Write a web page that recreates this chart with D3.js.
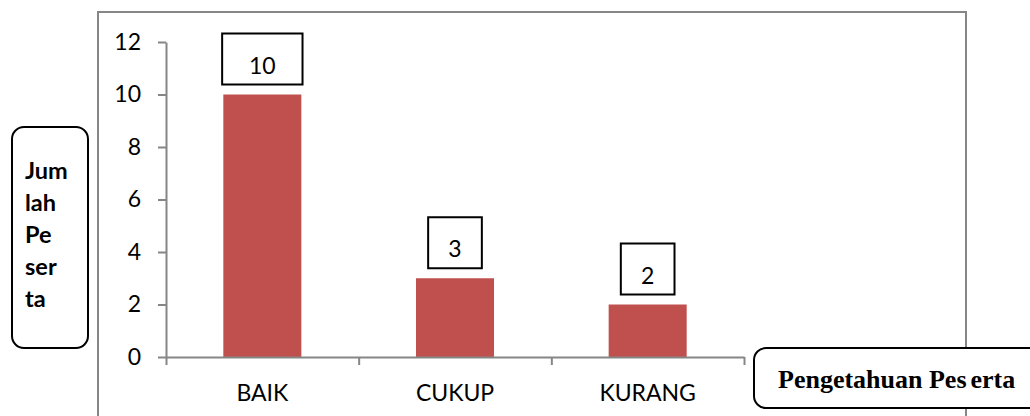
<!DOCTYPE html>
<html lang="en">
<head>
	<title>Pengetahuan Peserta</title>
	<script src="https://d3js.org/d3.v7.min.js" charset="utf-8"></script>
	<style>
		body { margin: 0; background: #fff; }
		.tick text { font-family: "Lato"; font-size: 23px; fill: #000; }
		.ax path, .ax line { stroke: #868686; stroke-width: 2; }
	</style>
</head>
<body>
	<div id="main"></div>

	<script type="text/javascript">
		// chart values
		var categories = ["BAIK", "CUKUP", "KURANG"];
		var values = [10, 3, 2];
		var yTicks = [0, 2, 4, 6, 8, 10, 12];
		var yTitle = ["Jum", "lah", "Pe", "ser", "ta"];
		var xTitle = "Pengetahuan Peserta";

		var width = 1030;
		var height = 416;

		var svg = d3.select("#main").append("svg")
			.attr("width", width)
			.attr("height", height);

		svg.append("rect")
			.attr("width", width)
			.attr("height", height)
			.attr("fill", "#fff");

		// outer chart frame (bottom runs off the picture)
		svg.append("rect")
			.attr("x", 98)
			.attr("y", 12)
			.attr("width", 868)
			.attr("height", 440)
			.attr("fill", "none")
			.attr("stroke", "#868686")
			.attr("stroke-width", 2);

		var y = d3.scaleLinear()
			.domain([0, 12])
			.range([357, 42]);

		var x = d3.scaleBand()
			.domain(categories)
			.range([166, 744])
			.paddingInner(0.595)
			.paddingOuter(0.2975);

		// boundaries between categories
		var xEdge = d3.scaleLinear()
			.domain([0, categories.length])
			.range(x.range());

		// bars
		svg.append("g")
			.selectAll("rect")
			.data(values)
			.enter()
			.append("rect")
			.attr("x", function(d, i) { return x(categories[i]); })
			.attr("y", function(d) { return y(d); })
			.attr("width", x.bandwidth())
			.attr("height", function(d) { return y(0) - y(d); })
			.attr("fill", "#C0504D");

		// y axis
		svg.append("g")
			.attr("class", "ax")
			.attr("transform", "translate(166,0)")
			.call(d3.axisLeft(y)
				.tickValues(yTicks)
				.tickSize(8)
				.tickSizeOuter(0)
				.tickPadding(17));

		// x axis tick marks
		svg.append("g")
			.attr("class", "ax")
			.attr("transform", "translate(0," + y(0) + ")")
			.call(d3.axisBottom(xEdge)
				.tickValues(d3.range(categories.length + 1))
				.tickSize(8)
				.tickSizeOuter(0)
				.tickFormat(""));

		// category labels
		svg.append("g")
			.attr("transform", "translate(0," + y(0) + ")")
			.call(d3.axisBottom(x).tickSize(0).tickPadding(28))
			.call(function(g) { g.select(".domain").remove(); });

		// data labels in boxes
		var lab = svg.append("g")
			.selectAll("g")
			.data(values)
			.enter()
			.append("g");

		lab.append("text")
			.attr("x", function(d, i) { return x(categories[i]) + x.bandwidth() / 2; })
			.attr("y", function(d) { return y(d) - 21; })
			.attr("text-anchor", "middle")
			.attr("font-family", "Lato")
			.attr("font-size", 23)
			.text(function(d) { return d; });

		lab.insert("rect", "text")
			.each(function(d, i) {
				var tw = this.parentNode.querySelector("text").getComputedTextLength();
				var w = tw * 2 + 27;
				var cx = x(categories[i]) + x.bandwidth() / 2;
				d3.select(this)
					.attr("x", cx - w / 2)
					.attr("y", y(d) - 61)
					.attr("width", w)
					.attr("height", 51);
			})
			.attr("fill", "#fff")
			.attr("stroke", "#000")
			.attr("stroke-width", 2);

		// y title box
		svg.append("rect")
			.attr("x", 12)
			.attr("y", 127)
			.attr("width", 76)
			.attr("height", 221)
			.attr("rx", 12)
			.attr("fill", "#fff")
			.attr("stroke", "#000")
			.attr("stroke-width", 2);

		svg.append("g")
			.selectAll("text")
			.data(yTitle)
			.enter()
			.append("text")
			.attr("x", 25)
			.attr("y", function(d, i) { return 179 + i * 31.9; })
			.attr("font-family", "Lato")
			.attr("font-weight", "bold")
			.attr("font-size", 23.5)
			.text(function(d) { return d; });

		// x title box
		svg.append("rect")
			.attr("x", 754)
			.attr("y", 348)
			.attr("width", 300)
			.attr("height", 60)
			.attr("rx", 12)
			.attr("fill", "#fff")
			.attr("stroke", "#000")
			.attr("stroke-width", 2);

		var xt = svg.append("text")
			.attr("x", 778)
			.attr("y", 388)
			.attr("font-family", "Liberation Serif")
			.attr("font-weight", "bold")
			.attr("font-size", 26);
		xt.append("tspan").text(xTitle.slice(0, 15));
		xt.append("tspan").attr("dx", 4).text(xTitle.slice(15));
	</script>
</body>
</html>
